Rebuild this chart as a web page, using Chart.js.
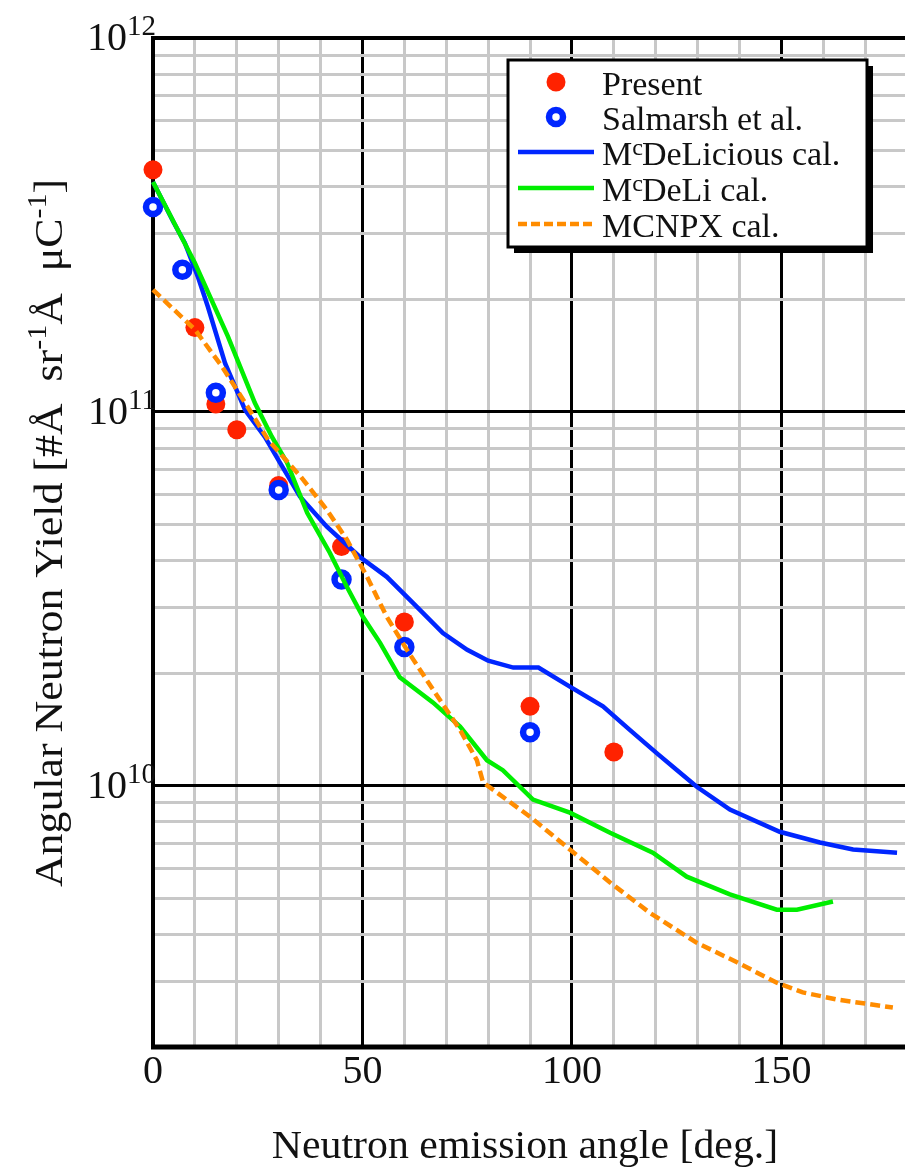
<!DOCTYPE html>
<html>
<head>
<meta charset="utf-8">
<script src="https://cdn.jsdelivr.net/npm/chart.js@4.4.0/dist/chart.umd.min.js"></script>
<style>
  html, body { margin: 0; padding: 0; background: #fff; }
</style>
</head>
<body>
<canvas id="yieldChart" width="905" height="1167"></canvas>
<script>
// measured points
const presentAngle = [0, 10, 15, 20, 30, 45, 60, 90, 110];
const presentYield = [4.44e11, 1.68e11, 1.05e11, 8.96e10, 6.35e10, 4.36e10, 2.74e10, 1.63e10, 1.23e10];

const salmarshAngle = [0, 7, 15, 30, 45, 60, 90];
const salmarshYield = [3.53e11, 2.40e11, 1.125e11, 6.18e10, 3.56e10, 2.35e10, 1.39e10];

// calculations
const delicAngle = [0, 5, 7.6, 10.7, 13.1, 17.2, 22, 26.7, 30.3, 35.1, 41.5, 49.4, 55.8, 62.1, 69.2, 75, 80, 86, 92, 99.5, 107.4, 113.8, 120.3, 125.1, 129.8, 137.7, 149.6, 159.2, 167.1, 177.6];
const delicYield = [4.12e11, 3.2e11, 2.83e11, 2.3e11, 1.91e11, 1.35e11, 1.01e11, 8.57e10, 7.31e10, 5.93e10, 4.93e10, 4.09e10, 3.62e10, 3.08e10, 2.56e10, 2.31e10, 2.16e10, 2.07e10, 2.07e10, 1.84e10, 1.63e10, 1.41e10, 1.22e10, 1.10e10, 9.93e9, 8.63e9, 7.53e9, 7.05e9, 6.75e9, 6.62e9];

const deliAngle = [0, 10, 17.9, 24.3, 28.4, 32, 36.8, 42.2, 46.3, 50.1, 54.2, 58.9, 66.8, 73.3, 79.7, 83.5, 90.7, 99.5, 109.1, 119.3, 127.4, 137.7, 148.9, 153.7, 162.3];
const deliYield = [4.12e11, 2.5e11, 1.59e11, 1.057e11, 8.57e10, 7.31e10, 5.37e10, 4.2e10, 3.4e10, 2.83e10, 2.41e10, 1.95e10, 1.67e10, 1.44e10, 1.17e10, 1.10e10, 9.18e9, 8.47e9, 7.48e9, 6.62e9, 5.71e9, 5.12e9, 4.66e9, 4.66e9, 4.9e9];

const mcnpxAngle = [0, 10, 16.5, 22, 27.5, 35.3, 41.5, 46.3, 51.1, 55.8, 60.6, 66.8, 73.3, 77.3, 78.8, 90, 99.5, 109.1, 118.6, 129.8, 139.4, 148.9, 155.1, 163.2, 176.6];
const mcnpxYield = [2.12e11, 1.66e11, 1.32e11, 1.057e11, 8.41e10, 6.7e10, 5.47e10, 4.55e10, 3.62e10, 2.83e10, 2.31e10, 1.81e10, 1.41e10, 1.17e10, 1.02e10, 8.26e9, 6.75e9, 5.51e9, 4.57e9, 3.8e9, 3.37e9, 2.97e9, 2.8e9, 2.68e9, 2.55e9];

const seriesLabels = ['Present', 'Salmarsh et al.', 'M^cDeLicious cal.', 'M^cDeLi cal.', 'MCNPX cal.'];
const angleLabels = [0, 50, 100, 150];
const yieldLabels = [1e10, 1e11, 1e12];

const RED = '#ff2200';
const BLUE = '#0026ff';
const GREEN = '#00ee00';
const ORANGE = '#ff8c00';
const GRAY = '#c8c8c8';
const FONT = '"Liberation Serif", "Times New Roman", serif';

function pairs(xs, ys) {
  return xs.map((x, i) => ({ x: x, y: ys[i] }));
}

function isDecade(v) {
  const l = Math.log10(v);
  return Math.abs(l - Math.round(l)) < 1e-9;
}

// text runs with superscripts: [{t, size, rise}]
function drawRuns(c, runs, x, y, align, stretch) {
  stretch = stretch || 1;
  let total = 0;
  runs.forEach(r => {
    c.font = r.size + 'px ' + FONT;
    r.w = (c.measureText(r.t).width + (r.kern || 0)) * stretch;
    total += r.w;
  });
  let cx = align === 'center' ? x - total / 2 : align === 'right' ? x - total : x;
  runs.forEach(r => {
    c.font = r.size + 'px ' + FONT;
    c.save();
    c.translate(cx, y - (r.rise || 0));
    c.scale(stretch, 1);
    c.fillText(r.t, 0, 0);
    c.restore();
    cx += r.w;
  });
}

function labelRuns(label, size) {
  const bits = label.split(/\^(\w)/);
  const runs = [];
  bits.forEach((b, i) => {
    if (b === '') return;
    if (i % 2 === 1) runs.push({ t: b, size: 24, rise: 10, kern: -1 });
    else runs.push({ t: b, size: size });
  });
  return runs;
}

const decor = {
  id: 'decor',
  beforeDatasetsDraw(chart) {
    const c = chart.ctx;
    const a = chart.chartArea;
    c.save();
    c.strokeStyle = '#000';
    c.lineWidth = 4;
    c.beginPath();
    c.moveTo(a.left, a.top);
    c.lineTo(a.right + 5, a.top);
    c.moveTo(a.left, a.top - 2);
    c.lineTo(a.left, a.bottom + 2);
    c.stroke();
    c.lineWidth = 5;
    c.beginPath();
    c.moveTo(a.left - 2, a.bottom);
    c.lineTo(a.right + 5, a.bottom);
    c.stroke();
    c.restore();
  },
  afterDraw(chart) {
    const c = chart.ctx;
    const a = chart.chartArea;
    const xs = chart.scales.x;
    const ys = chart.scales.y;
    c.save();
    c.fillStyle = '#111';
    c.textBaseline = 'alphabetic';

    // x tick labels
    c.textAlign = 'center';
    c.font = '40px ' + FONT;
    angleLabels.forEach(v => c.fillText(String(v), xs.getPixelForValue(v), a.bottom + 36));

    // y tick labels
    c.textAlign = 'left';
    yieldLabels.forEach(v => {
      const py = ys.getPixelForValue(v);
      drawRuns(c, [{ t: '10', size: 40 }, { t: String(Math.round(Math.log10(v))), size: 29, rise: 15 }], a.left + 3, py + 12, 'right');
    });

    // axis titles
    drawRuns(c, [{ t: 'Neutron emission angle [deg.]', size: 41 }], 525, 1158, 'center', 1.02);
    c.save();
    c.translate(62, 533);
    c.rotate(-Math.PI / 2);
    drawRuns(c, [
      { t: 'Angular Neutron Yield [#\u00c5  sr', size: 41 },
      { t: '-1', size: 28, rise: 16 },
      { t: '\u00c5  \u03bcC', size: 41 },
      { t: '-1', size: 28, rise: 16 },
      { t: ']', size: 41 }
    ], 0, 0, 'center', 1.07);
    c.restore();

    // legend box
    const bx = 508, by = 60, bw = 359, bh = 187;
    c.fillStyle = '#000';
    c.fillRect(bx + 6, by + 6, bw, bh);
    c.fillStyle = '#fff';
    c.fillRect(bx, by, bw, bh);
    c.strokeStyle = '#000';
    c.lineWidth = 3;
    c.strokeRect(bx, by, bw, bh);

    const rows = [95, 130, 165, 201, 237];
    const mx = 556;
    // markers
    c.fillStyle = RED;
    c.beginPath();
    c.arc(mx, rows[0] - 13, 9.5, 0, Math.PI * 2);
    c.fill();
    c.strokeStyle = BLUE;
    c.lineWidth = 6.5;
    c.beginPath();
    c.arc(mx, rows[1] - 13, 7, 0, Math.PI * 2);
    c.stroke();
    const lineStyles = [[BLUE, []], [GREEN, []], [ORANGE, [9, 4]]];
    lineStyles.forEach((s, i) => {
      c.strokeStyle = s[0];
      c.setLineDash(s[1]);
      c.lineWidth = 4.5;
      c.beginPath();
      c.moveTo(518, rows[i + 2] - 13);
      c.lineTo(594, rows[i + 2] - 13);
      c.stroke();
    });
    c.setLineDash([]);
    c.fillStyle = '#111';
    seriesLabels.forEach((lab, i) => {
      drawRuns(c, labelRuns(lab, 34), 602, rows[i], 'left');
    });
    c.restore();
  }
};

const xGrid = [];
for (let v = 0; v <= 170; v += 10) xGrid.push(v);
const yGrid = [];
for (let e = 9; e <= 11; e++) {
  for (let m = 1; m <= 9; m++) {
    const v = m * Math.pow(10, e);
    if (v >= 2e9) yGrid.push(v);
  }
}
yGrid.push(1e12);

const ctx = document.getElementById('yieldChart').getContext('2d');

new Chart(ctx, {
  type: 'line',
  data: {
    datasets: [
      {
        label: 'MCNPX cal.',
        data: pairs(mcnpxAngle, mcnpxYield),
        borderColor: ORANGE,
        borderWidth: 4.5,
        borderDash: [10, 5],
        pointRadius: 0,
        tension: 0,
        clip: false
      },
      {
        label: 'McDeLi cal.',
        data: pairs(deliAngle, deliYield),
        borderColor: GREEN,
        borderWidth: 4.5,
        pointRadius: 0,
        tension: 0,
        clip: false
      },
      {
        label: 'McDeLicious cal.',
        data: pairs(delicAngle, delicYield),
        borderColor: BLUE,
        borderWidth: 4.5,
        pointRadius: 0,
        tension: 0,
        clip: false
      },
      {
        label: 'Salmarsh et al.',
        data: pairs(salmarshAngle, salmarshYield),
        showLine: false,
        pointRadius: 7,
        pointBorderWidth: 6.5,
        pointBorderColor: BLUE,
        pointBackgroundColor: '#fff',
        clip: false
      },
      {
        label: 'Present',
        data: pairs(presentAngle, presentYield),
        showLine: false,
        pointRadius: 9.5,
        pointBorderWidth: 0,
        pointBackgroundColor: RED,
        clip: false
      }
    ]
  },
  options: {
    responsive: false,
    animation: false,
    layout: { autoPadding: false, padding: { left: 153, top: 38, right: 0, bottom: 120 } },
    plugins: {
      legend: { display: false },
      tooltip: { enabled: false }
    },
    scales: {
      x: {
        type: 'linear',
        min: 0,
        max: 179.5,
        afterBuildTicks: s => { s.ticks = xGrid.map(v => ({ value: v })); },
        ticks: { display: false },
        border: { display: false },
        grid: {
          drawTicks: false,
          color: c => (c.tick && c.tick.value % 50 === 0 ? '#000' : GRAY),
          lineWidth: 3
        }
      },
      y: {
        type: 'logarithmic',
        min: 2e9,
        max: 1e12,
        afterBuildTicks: s => { s.ticks = yGrid.map(v => ({ value: v })); },
        ticks: { display: false },
        border: { display: false },
        grid: {
          drawTicks: false,
          color: c => (c.tick && isDecade(c.tick.value) ? '#000' : GRAY),
          lineWidth: 3
        }
      }
    }
  },
  plugins: [decor]
});
</script>
</body>
</html>
